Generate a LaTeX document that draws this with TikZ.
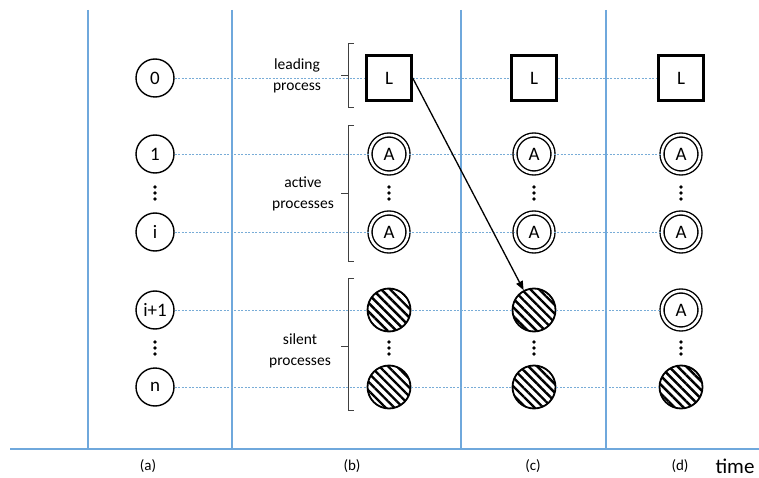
\documentclass[tikz,border=0pt]{standalone}
\usepackage{fontspec}
\setmainfont{Carlito}
\usetikzlibrary{arrows.meta,patterns.meta}
\definecolor{axisblue}{RGB}{111,168,220}
\definecolor{guideblue}{RGB}{120,172,215}
\begin{document}
\begin{tikzpicture}[x=1pt,y=-1pt,
  every node/.style={font=\fontsize{19}{19}\selectfont},
  proc/.style={circle,draw=black,line width=1.4pt,fill=white,minimum size=38pt,inner sep=0pt},
  lead/.style={rectangle,draw=black,line width=2.4pt,fill=white,minimum size=45pt,inner sep=0pt},
  active/.style={circle,draw=black,line width=1.4pt,fill=white,double=white,double distance=2.6pt,minimum size=38pt,inner sep=0pt},
  silent/.style={circle,draw=black,line width=1.8pt,minimum size=43pt,inner sep=0pt,
     pattern={Lines[angle=-45,distance=6.2pt,line width=2.4pt]}},
  guide/.style={guideblue,dashed,dash pattern=on 2pt off 1.5pt,line width=0.6pt},
  axis/.style={axisblue,line width=1.8pt},
  brk/.style={black!75,line width=0.9pt},
  lbl/.style={font=\fontsize{15.5}{20.5}\selectfont,align=center},
  captn/.style={font=\fontsize{15}{15}\selectfont},
]
\useasboundingbox (0,0) rectangle (759,478);
% axes
\draw[axis] (10,449) -- (759,449);
\foreach \x in {88,232,461,606} \draw[axis] (\x,10) -- (\x,449);
% column a
\node[proc] (a0) at (155,78) {0};
\node[proc] (a1) at (155,154) {1};
\node[proc] (ai) at (155,232) {i};
\node[proc] (ai1) at (155,310) {i+1};
\node[proc] (an) at (155,387) {n};
% column b
\node[lead] (bL) at (389,78) {L};
\node[active] (ba1) at (389,154) {A};
\node[active] (ba2) at (389,232) {A};
\node[silent] (bs1) at (389,310) {};
\node[silent] (bs2) at (389,387) {};
% column c
\node[lead] (cL) at (534,78) {L};
\node[active] (ca1) at (534,154) {A};
\node[active] (ca2) at (534,232) {A};
\node[silent] (cs1) at (534,310) {};
\node[silent] (cs2) at (534,387) {};
% column d
\node[lead] (dL) at (681,78) {L};
\node[active] (da1) at (681,154) {A};
\node[active] (da2) at (681,232) {A};
\node[active] (da3) at (681,310) {A};
\node[silent] (ds2) at (681,387) {};
% guide lines
\draw[guide] (a0.east) -- (bL.west) (bL.east) -- (cL.west) (cL.east) -- (dL.west);
\draw[guide] (a1.east) -- (ba1.west) (ba1.east) -- (ca1.west) (ca1.east) -- (da1.west);
\draw[guide] (ai.east) -- (ba2.west) (ba2.east) -- (ca2.west) (ca2.east) -- (da2.west);
\draw[guide] (ai1.east) -- (bs1.west) (bs1.east) -- (cs1.west) (cs1.east) -- (da3.west);
\draw[guide] (an.east) -- (bs2.west) (bs2.east) -- (cs2.west) (cs2.east) -- (ds2.west);
% vertical dots
\foreach \x in {155,389,534,681}
  \foreach \y in {187,193,199,342,348,354}
    \fill (\x,\y) circle (1.8pt);
% brackets
\draw[brk] (354,43) -- (348,43) -- (348,107) -- (354,107) (348,75) -- (341,75);
\draw[brk] (354,125) -- (348,125) -- (348,261) -- (354,261) (348,193) -- (341,193);
\draw[brk] (354,278) -- (348,278) -- (348,410) -- (354,410) (348,346) -- (341,346);
% labels
\node[lbl] (tlead) at (297,76) {leading\\process};
\node[lbl] (tact) at (303,194) {active\\processes};
\node[lbl] (tsil) at (300,351) {silent\\processes};
% arrow
\draw[line width=1.3pt,-{Triangle[length=9pt,width=7pt]}] (bL.east) -- (cs1);
% captions
\node[captn] (ca) at (148,466) {(a)};
\node[captn] (cb) at (352,466) {(b)};
\node[captn] (cc) at (533,466) {(c)};
\node[captn] (cd) at (680,466) {(d)};
\node[font=\fontsize{21}{21}\selectfont] (tt) at (735,466) {time};
\end{tikzpicture}
\end{document}
